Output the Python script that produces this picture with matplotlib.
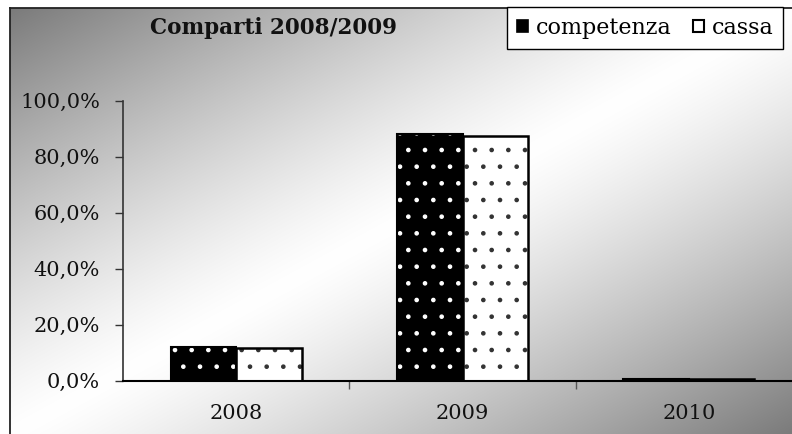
import numpy as np
import matplotlib
matplotlib.use("Agg")
import matplotlib.pyplot as plt
from matplotlib.patches import Patch
from matplotlib.ticker import FuncFormatter, FixedLocator

# ---- data ----
categories = ["2008", "2009", "2010"]
competenza = [11.9, 88.1, 0.5]
cassa = [11.6, 87.4, 0.5]
series_names = ["competenza", "cassa"]
title = "Comparti 2008/2009"
yticks = [0, 20, 40, 60, 80, 100]

plt.rcParams["font.family"] = ["DejaVu Serif"]
plt.rcParams["hatch.linewidth"] = 0.9

W, H = 792, 434
fig = plt.figure(figsize=(W / 100, H / 100), dpi=100)
fig.patch.set_facecolor("white")

# ---- background gradient ----
bg = fig.add_axes([0, 0, 1, 1], zorder=-10)
bg.set_xlim(0, W)
bg.set_ylim(H, 0)
bg.axis("off")
x0, y0 = 10, 8
X, Y = np.meshgrid(np.arange(W), np.arange(H))
t = ((X - x0) / (W - x0) + (Y - y0) / (H - y0)) / 2
d = np.abs(2 * t - 1)
v = 1 - 0.52 * d ** 1.25
img = np.dstack([v, v, v])
img[(X < x0) | (Y < y0)] = 1.0
bg.imshow(img, extent=(0, W, H, 0), aspect="auto", interpolation="bilinear")
bg.plot([x0 - 0.5, x0 - 0.5], [y0 - 0.5, H], color="#222222", lw=1.3)
bg.plot([x0 - 0.5, W], [y0 - 0.5, y0 - 0.5], color="#222222", lw=1.3)

# ---- main axes ----
left_px, right_px = 123, 802
top_px, bot_px = 100.7, 380.7
ax = fig.add_axes([left_px / W, 1 - bot_px / H, (right_px - left_px) / W, (bot_px - top_px) / H])
ax.set_facecolor("none")

x = np.arange(len(categories))
bw = 0.29
off = 0.145
ax.bar(x - off, competenza, bw, color="black", edgecolor="white", hatch=".", lw=0, zorder=2)
ax.bar(x - off, competenza, bw, fill=False, edgecolor="black", lw=1.5, zorder=3)
ax.bar(x + off, cassa, bw, color="white", edgecolor="#333333", hatch=".", lw=0, zorder=2)
ax.bar(x + off, cassa, bw, fill=False, edgecolor="black", lw=1.8, zorder=3)

ax.set_xlim(-0.5, len(categories) - 0.5)
ax.set_ylim(0, 100)
for s in ["top", "right"]:
    ax.spines[s].set_visible(False)
ax.spines["left"].set_color("#333333")
ax.spines["left"].set_linewidth(1.2)
ax.spines["bottom"].set_color("black")
ax.spines["bottom"].set_linewidth(1.5)
ax.spines["bottom"].set_zorder(4)

ax.set_yticks(yticks)
ax.yaxis.set_major_formatter(FuncFormatter(lambda v, p: f"{v:.1f}%".replace(".", ",")))
ax.tick_params(axis="y", direction="out", length=6, width=1.0, color="#333333",
               labelsize=15, pad=10.5, labelcolor="#111111")

ax.set_xticks(x)
ax.set_xticklabels(categories)
ax.tick_params(axis="x", which="major", length=0, labelsize=15, pad=17, labelcolor="#111111")
ax.xaxis.set_minor_locator(FixedLocator([0.5, 1.5]))
ax.tick_params(axis="x", which="minor", direction="out", length=6, width=1.0, color="#555555")

# ---- title ----
fig.text(273 / W, 1 - 28 / H, title, ha="center", va="center", fontsize=15.5,
         fontweight="bold", color="#111111")

# ---- legend ----
handles = [Patch(facecolor="black", edgecolor="black", lw=1.2),
           Patch(facecolor="white", edgecolor="black", lw=1.5)]
leg = fig.legend(handles, series_names, loc="upper left", bbox_to_anchor=(507 / W, 1 - 7 / H),
                 ncol=2, frameon=True, fancybox=False, edgecolor="black", framealpha=1,
                 fontsize=16, handlelength=0.5, handleheight=0.5, handletextpad=0.35,
                 columnspacing=0.95, borderpad=0.45, borderaxespad=0)
leg.get_frame().set_linewidth(1.0)

fig.savefig("out.png", dpi=100)
